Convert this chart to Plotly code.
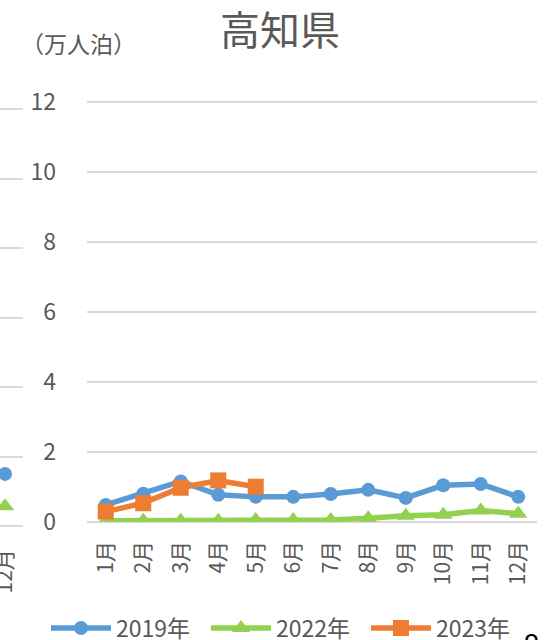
import plotly.graph_objects as go

months = ["1月", "2月", "3月", "4月", "5月", "6月", "7月", "8月", "9月", "10月", "11月", "12月"]
y2019 = [0.48, 0.80, 1.15, 0.77, 0.71, 0.71, 0.79, 0.91, 0.68, 1.04, 1.08, 0.71]
y2022 = [0.03, 0.03, 0.03, 0.03, 0.05, 0.05, 0.05, 0.10, 0.17, 0.20, 0.32, 0.23]
y2023 = [0.29, 0.53, 0.97, 1.18, 1.00]
# neighbouring chart fragment (only its December point is visible)
frag_month = ["12月"]
frag2019 = [1.50]
frag2022 = [0.57]

title_text = "高知県"
unit_text = "（万人泊）"
corner_text = "8"

BLUE = "#5B9BD5"
GREEN = "#92D050"
ORANGE = "#ED7D31"
GRID = "#D9D9D9"
TXT = "#595959"
FONT = "Noto Sans CJK JP"

W, H = 551, 640
ML, MR, MT, MB = 0, 14, 90, 100
PW = W - ML - MR
PH = H - MT - MB
YTOP = 12.06


def px_x(x):
    return (x - ML) / PW


def px_y(y):
    return (H - MB - y) / PH


main_bottom, main_top = 521.7, 102.0
main_scale = (main_bottom - main_top) / 12
frag_bottom, frag_top = 526.0, 109.0
frag_scale = (frag_bottom - frag_top) / 12

fig = go.Figure()

fig.add_trace(go.Scatter(x=months, y=y2019, name="2019年", mode="lines+markers",
                         line=dict(color=BLUE, width=5.5),
                         marker=dict(symbol="circle", size=14, color=BLUE),
                         xaxis="x", yaxis="y"))
fig.add_trace(go.Scatter(x=months, y=y2022, name="2022年", mode="lines+markers",
                         line=dict(color=GREEN, width=5.5),
                         marker=dict(symbol="triangle-up", size=16, color=GREEN),
                         xaxis="x", yaxis="y"))
fig.add_trace(go.Scatter(x=months[:len(y2023)], y=y2023, name="2023年", mode="lines+markers",
                         line=dict(color=ORANGE, width=5.5),
                         marker=dict(symbol="square", size=16, color=ORANGE),
                         xaxis="x", yaxis="y"))

# fragment of neighbouring chart on the left edge
fig.add_trace(go.Scatter(x=frag_month, y=frag2019, mode="markers", showlegend=False,
                         marker=dict(symbol="circle", size=14, color=BLUE),
                         xaxis="x2", yaxis="y2", cliponaxis=False))
fig.add_trace(go.Scatter(x=frag_month, y=frag2022, mode="markers", showlegend=False,
                         marker=dict(symbol="triangle-up", size=16, color=GREEN),
                         xaxis="x2", yaxis="y2", cliponaxis=False))

fig.update_layout(
    width=W, height=H,
    margin=dict(l=ML, r=MR, t=MT, b=MB, autoexpand=False),
    paper_bgcolor="white", plot_bgcolor="white",
    font=dict(family=FONT, color=TXT, size=21),
    title=dict(text=title_text, x=px_x(280), xanchor="center", xref="paper",
               y=1 - 31 / H, yanchor="middle", yref="container",
               font=dict(size=40, color=TXT, family=FONT)),
    xaxis=dict(domain=[px_x(87), 1], type="category", categoryarray=months,
               range=[-0.5, 11.5], showgrid=False, zeroline=False, showline=False,
               tickangle=-90, ticks="", ticklabelstandoff=14,
               tickfont=dict(size=21, color=TXT), anchor="y", automargin=False),
    yaxis=dict(domain=[px_y(main_bottom), px_y(main_top - (YTOP - 12) * main_scale)],
               range=[0, YTOP], tickvals=[0, 2, 4, 6, 8, 10, 12],
               showgrid=True, gridcolor=GRID, gridwidth=1.5,
               zeroline=True, zerolinecolor=GRID, zerolinewidth=1.5,
               showline=False, ticks="", ticklabelstandoff=30,
               tickfont=dict(size=23, color=TXT), anchor="x", automargin=False),
    xaxis2=dict(domain=[0, px_x(23)], type="category", categoryarray=months,
                range=[11 - 5 / 37.5, 11 + 18 / 37.5], showgrid=False, zeroline=False,
                tickangle=-90, ticks="", ticklabelstandoff=18,
                tickfont=dict(size=21, color=TXT), anchor="y2", automargin=False),
    yaxis2=dict(domain=[px_y(frag_bottom), px_y(frag_top - (YTOP - 12) * frag_scale)],
                range=[0, YTOP], tickvals=[0, 2, 4, 6, 8, 10, 12],
                showgrid=True, gridcolor=GRID, gridwidth=1.5,
                zeroline=True, zerolinecolor=GRID, zerolinewidth=1.5,
                showticklabels=False, ticks="", anchor="x2", automargin=False),
    legend=dict(orientation="h", xref="container", yref="container",
                x=46 / W, xanchor="left", y=1 - 628 / H, yanchor="middle",
                font=dict(size=23, color=TXT), itemwidth=60, bgcolor="rgba(0,0,0,0)",
                entrywidth=85, entrywidthmode="pixels", tracegroupgap=0),
    showlegend=True,
    annotations=[
        dict(text=unit_text, xref="paper", yref="paper", x=px_x(78), y=px_y(43),
             xanchor="center", yanchor="middle", showarrow=False,
             font=dict(size=23, color=TXT, family=FONT)),
        dict(text=corner_text, xref="paper", yref="paper", x=px_x(531), y=px_y(619),
             xanchor="center", yanchor="top", showarrow=False,
             font=dict(size=30, color="black", family=FONT)),
    ],
)

fig.write_html("out.html", config={"displayModeBar": False},
               post_script="document.body.style.margin='0';document.body.style.overflow='hidden';")
